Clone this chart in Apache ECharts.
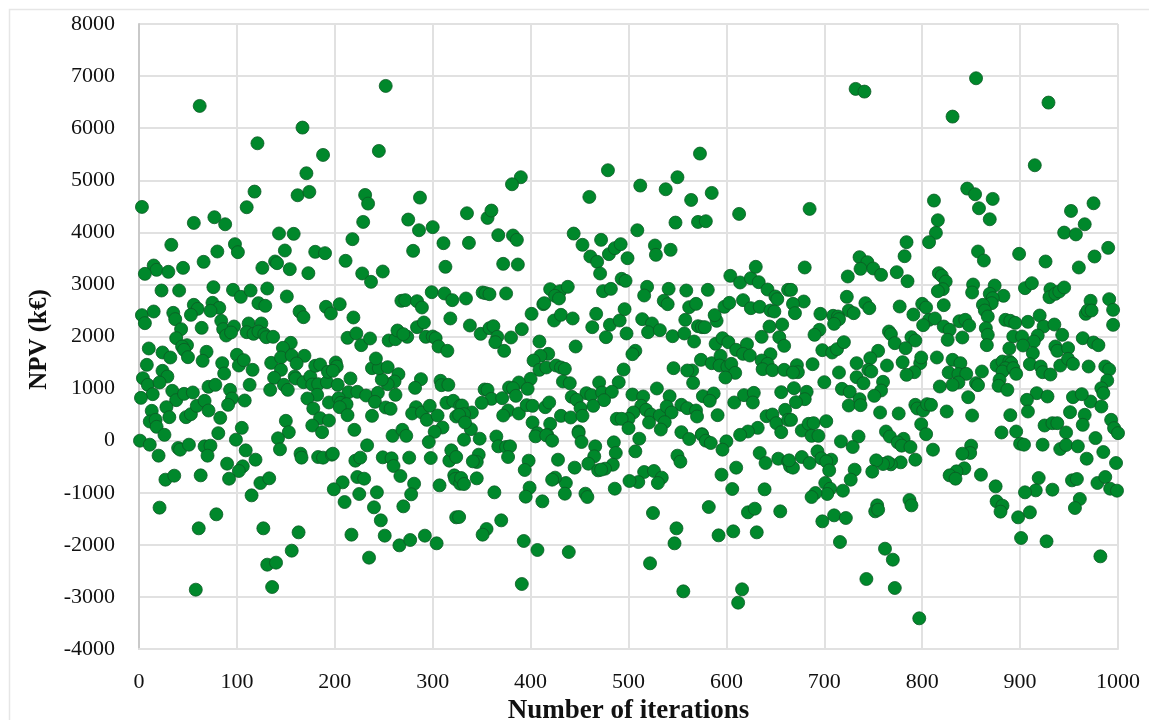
<!DOCTYPE html>
<html><head><meta charset="utf-8">
<style>html,body{margin:0;padding:0;background:#fff}#c{width:1149px;height:720px}</style>
<script src="https://cdn.jsdelivr.net/npm/echarts@6/dist/echarts.min.js"></script>
</head><body><div id="c"></div>
<script>
const xTicks=[0,100,200,300,400,500,600,700,800,900,1000];
const yTicks=[-4000,-3000,-2000,-1000,0,1000,2000,3000,4000,5000,6000,7000,8000];
const xTitle='Number of iterations';
const yTitle='NPV (k€)';
const runsLeft=[[62,6427],[252,6811],[167,6011],[121,5710],[188,5486],[245,5563],[171,5134],[118,4782],[3,4488],[110,4482],[77,4290],[56,4181],[88,4155],[162,4712],[174,4776],[231,4718],[234,4552],[287,4667],[229,4200],[275,4245],[300,4100],[286,4040],
[143,3978],[158,3971],[33,3760],[218,3869],[98,3773],[101,3619],[80,3632],[149,3651],[180,3626],[190,3600],[280,3645],[311,3792],[66,3434],[211,3453],[139,3440],[141,3408],[126,3318],[154,3293],[45,3318],[15,3363],[18,3280],[30,3242],[6,3203],[173,3216],[228,3210],[237,3050],[249,3248],[313,3338],[23,2883],[41,2883],[76,2947],[96,2896],[104,2762],[114,2883],[131,2922],[151,2768],[299,2851],[312,2826],[320,2698],[268,2685],[272,2698],[284,2678],[289,2557],[318,2346],[3,2410],[15,2480],[6,2256],[35,2454],[37,2333],[56,2608],[60,2531],[53,2416],[75,2646],[82,2550],[73,2493],[122,2640],[129,2589],[164,2480],[168,2371],[191,2570],[196,2442],[205,2621],[219,2365],[43,2141],[64,2166],[84,2301],[86,2141],[97,2192],[89,2019],[94,2077],[112,2250],[125,2250],[110,2083],[117,2051],[122,2096],[128,2045],[130,1987],[137,1994],[155,1878],[147,1782],[38,1968],[49,1834],[44,1808],[46,1744],[50,1603],[10,1770],[24,1693],[32,1597],[69,1706],[65,1533],[85,1488],[87,1290],[100,1648],[102,1443],[107,1546],[116,1360],[8,1456],[4,1200],[9,1072],[14,893],[2,822],[24,1341],[29,1232],[21,1117],[34,957],[38,778],[46,899],[55,925],[71,1034],[78,1072],[93,976],[95,810],[91,688],[108,771],[113,1072],[135,1494],[145,1597],[145,1360],[138,1206],[134,976],[148,1072],[152,976],[156,1635],[169,1629],[161,1482],[159,1232],[160,1194],[168,1123],[175,1232],[177,1078],[183,1085],[192,1123],[182,880],[203,1072],[180,1437],[185,1462],[201,1501],[202,1424],[193,1322],[198,1341],[216,1194],[214,931],[223,938],[232,867],[244,918],[241,746],[262,880],[265,1277],[261,1136],[254,1085],[248,1174],[238,1392],[245,1392],[242,1578],[254,1411],[213,1974],[222,2058],[227,1834],[236,1962],[255,1923],[262,1949],[264,2115],[274,1994],[270,2045],[284,2179],[291,2269],[293,1994],[300,2000],[303,1968],[306,1808],[315,1725],[288,1181],[282,1014],[308,1149],[309,1066],[316,1072],[314,726],[321,765],[328,669],[172,810],[178,618],[194,733],[204,816],[206,726],[212,701],[205,643],[213,490],[185,432],[194,387],[177,291],[187,163],[220,208],[238,477],[252,637],[257,611],[283,643],[279,522],[289,541],[297,669],[294,400],[305,483],[28,643],[13,573],[11,368],[17,400],[18,266],[31,451],[26,112],[48,451],[53,509],[59,669],[67,765],[71,579],[83,438],[81,144],[105,246],[150,381],[153,163],[259,93],[269,208],[273,93],[310,253],[302,170],[324,464],
[1,0],[11,-77],[20,-288],[40,-141],[42,-173],[51,-77],[67,-109],[73,-96],[70,-288],[99,19],[109,-186],[90,-442],[119,-365],[106,-493],[102,-582],[92,-730],[124,-813],[133,-723],[115,-1050],[27,-749],[36,-672],[63,-666],[21,-1286],[79,-1414],[61,-1683],[58,-2861],[127,-1683],[163,-1760],[156,-2112],[131,-2381],[140,-2342],[136,-2810],[142,45],[144,-166],[165,-250],[166,-326],[183,-314],[188,-326],[197,-269],[198,-250],[221,-384],[226,-326],[233,-90],[249,-320],[258,-339],[260,-486],[267,-678],[276,-326],[281,-826],[278,-1030],[270,-1261],[223,-698],[230,-730],[208,-800],[199,-934],[210,-1178],[225,-1024],[243,-992],[240,-1280],[247,-1530],[251,-1824],[217,-1805],[235,-2246],[266,-2010],[277,-1907],[292,-1824],[304,-1971],[296,-26],[298,-333],[307,-858],[317,-384],[319,-186],[324,-314],[324,-1472],[322,-666],[323,-736],[328,-826]];
const runsMiddle=[[390,5058],[381,4923],[479,5192],[460,4680],[335,4366],[356,4277],[360,4418],[573,5512],[550,5058],[512,4898],[538,4827],[564,4622],[585,4757],[548,4187],[571,4200],[579,4213],[613,4354],[444,3976],[509,4040],
[367,3946],[382,3939],[386,3856],[337,3798],[372,3395],[387,3382],[453,3760],[472,3856],[461,3536],[468,3434],[471,3210],[480,3581],[486,3696],[492,3773],[499,3504],[527,3747],[528,3568],[543,3664],[604,3165],[614,3037],[625,3120],[630,3338],[633,3043],[642,2902],[650,2768],[652,2717],[663,2896],[617,2698],[625,2544],[634,2570],[645,2499],[649,2480],[493,3107],[497,3069],[474,2870],[482,2915],[519,2954],[516,2787],[541,2915],[559,2883],[581,2896],[420,2909],[430,2870],[438,2954],[425,2781],[429,2730],[351,2845],[354,2832],[358,2813],[375,2826],[334,2730],[413,2621],[414,2640],[401,2435],[424,2307],[431,2416],[443,2346],[467,2435],[463,2179],[481,2224],[491,2307],[496,2525],[477,1987],[498,2058],[514,2333],[524,2250],[520,2083],[532,2122],[545,2006],[536,2685],[540,2621],[562,2563],[569,2627],[558,2320],[557,2058],[567,1904],[571,2198],[575,2179],[578,2179],[590,2301],[588,2410],[598,2570],[603,2646],[644,2192],[657,2230],[636,1994],[654,1987],[659,1821],[338,2211],[349,2051],[358,2160],[362,2198],[366,1994],[364,1891],[373,1725],[380,1981],[391,2141],[409,1904],[446,1808],[507,1725],[504,1661],[495,1366],[490,1123],[418,1667],[410,1629],[403,1539],[409,1360],[416,1405],[426,1443],[431,1405],[435,1379],[433,1136],[440,1104],[470,1117],[400,1187],[388,1117],[378,1021],[382,1008],[397,995],[385,861],[353,982],[356,976],[360,803],[371,816],[350,726],[330,675],[340,541],[332,509],[327,496],[377,579],[372,483],[388,522],[396,682],[402,669],[415,643],[419,733],[402,349],[420,323],[431,477],[441,445],[457,912],[442,842],[447,784],[462,874],[473,925],[483,938],[475,778],[464,669],[451,624],[453,477],[529,1002],[542,854],[546,1392],[565,1347],[560,1347],[566,1110],[574,1552],[585,1488],[594,1629],[589,1859],[596,1968],[602,1891],[610,1744],[621,1853],[617,1667],[624,1635],[593,1443],[601,1418],[605,1475],[609,1302],[599,1213],[645,1661],[636,1539],[642,1475],[637,1373],[647,1354],[659,1360],[504,886],[515,848],[513,669],[518,592],[523,502],[532,483],[539,656],[554,688],[560,624],[544,541],[569,579],[570,464],[537,355],[533,214],[505,541],[500,419],[488,419],[493,419],[500,240],[521,349],[576,854],[587,906],[583,765],[591,490],[608,733],[618,874],[628,918],[627,733],[656,931],[660,592],[641,470],[647,502],[651,336],[663,400],[656,163],[554,163],[575,125],[632,246],[622,176],[614,112],[449,176],[365,80],[407,144],[417,112],[339,221],[333,349],
[332,19],[348,38],[367,-109],[375,-122],[379,-109],[377,-314],[405,83],[416,102],[422,0],[449,147],[452,-26],[466,-109],[465,-301],[459,-442],[485,-32],[487,-237],[484,-461],[476,-538],[469,-570],[472,-557],[511,38],[507,-205],[550,-288],[553,-403],[562,32],[575,115],[579,0],[584,-45],[600,-13],[596,-173],[634,-237],[640,-429],[653,-346],[663,-397],[665,-493],[610,-518],[595,-653],[606,-928],[639,-934],[516,-602],[526,-582],[534,-710],[530,-813],[510,-794],[501,-774],[486,-922],[456,-1018],[458,-1082],[436,-813],[435,-1018],[425,-710],[422,-749],[445,-518],[428,-365],[398,-384],[394,-563],[399,-902],[395,-1075],[412,-1165],[347,-269],[345,-410],[341,-397],[345,-723],[329,-717],[332,-832],[363,-992],[327,-1466],[370,-1530],[355,-1696],[351,-1805],[393,-1926],[407,-2099],[439,-2138],[391,-2752],[525,-1389],[549,-1683],[547,-1971],[522,-2355],[556,-2893],[582,-1274],[592,-1818],[607,-1741],[616,-2854],[612,-3110],[631,-1760],[622,-1376],[629,-1306],[655,-1357]];
const runsRight=[[732,6754],[741,6702],[855,6958],[831,6222],[929,6491],[915,5288],[685,4450],[846,4840],[854,4731],[872,4642],[812,4610],[858,4462],[816,4232],[869,4251],[975,4558],[952,4411],[966,4155],[945,3995],[957,3960],[814,3990],
[784,3811],[782,3542],[807,3811],[680,3325],[736,3523],[744,3427],[737,3299],[750,3306],[758,3184],[724,3152],[774,3235],[785,3062],[857,3632],[863,3459],[899,3587],[926,3440],[960,3325],[976,3536],[990,3702],[817,3216],[820,3165],[824,3056],[821,2909],[816,2870],[852,2998],[851,2845],[874,2979],[869,2819],[883,2781],[872,2736],[871,2640],[862,2608],[864,2499],[867,2384],[865,2160],[867,2032],[866,1834],[905,2928],[912,3024],[931,2909],[930,2755],[936,2819],[940,2864],[945,2941],[972,2685],[967,2435],[969,2499],[973,2499],[991,2717],[995,2512],[995,2224],[666,2896],[679,2672],[668,2627],[670,2448],[723,2762],[742,2640],[746,2544],[725,2499],[730,2448],[777,2576],[791,2422],[822,2602],[696,2435],[709,2397],[714,2384],[715,2333],[710,2243],[800,2627],[804,2557],[807,2320],[813,2346],[801,2218],[822,2192],[828,2128],[826,1936],[841,1981],[838,2294],[844,2320],[848,2211],[885,2320],[890,2301],[895,2262],[908,2282],[920,2403],[924,2192],[935,2230],[918,2019],[914,1904],[893,2000],[902,2000],[903,1827],[889,1770],[913,1680],[943,2032],[964,1968],[975,1885],[980,1834],[695,2128],[690,2032],[698,1738],[708,1693],[713,1757],[720,1891],[766,2096],[768,2045],[772,1872],[789,1987],[793,1923],[783,1776],[755,1725],[747,1584],[733,1488],[764,1443],[780,1507],[798,1488],[799,1597],[815,1597],[688,1469],[672,1450],[673,1315],[668,1309],[715,1309],[700,1123],[745,1360],[748,1328],[733,1219],[740,1104],[792,1315],[784,1264],[760,1130],[758,963],[751,861],[718,995],[726,938],[736,797],[725,675],[737,682],[669,1008],[682,938],[680,797],[671,739],[757,541],[776,522],[831,1552],[839,1488],[827,1309],[837,1277],[845,1283],[837,1117],[831,1072],[818,1040],[861,1328],[855,1104],[857,1066],[847,835],[825,560],[851,483],[793,688],[795,618],[801,579],[805,701],[809,688],[799,317],[804,125],[763,176],[767,80],[781,35],[735,80],[717,-15],[666,400],[677,195],[684,323],[689,336],[702,374],[687,93],[694,93],[876,1443],[882,1520],[889,1520],[891,1488],[885,1392],[882,1328],[893,1392],[896,1283],[879,1168],[878,1053],[887,976],[970,1424],[941,1443],[936,1808],[938,1725],[949,1776],[949,1571],[954,1475],[910,1469],[921,1424],[923,1315],[931,1270],[987,1424],[991,1366],[989,1155],[983,1008],[985,912],[972,752],[983,656],[954,835],[963,893],[917,912],[907,784],[928,848],[908,560],[890,490],[951,547],[966,496],[964,304],[925,291],[933,336],[938,336],[947,157],[881,157],[896,176],[993,400],[996,240],[1000,144],[977,50],
[729,-122],[775,-32],[779,-96],[788,-122],[811,-173],[793,-365],[778,-416],[768,-454],[765,-416],[760,-448],[753,-378],[749,-595],[693,-205],[677,-314],[685,-429],[697,-339],[707,-365],[702,-397],[668,-518],[664,-378],[705,-570],[731,-557],[727,-749],[701,-813],[706,-922],[703,-1024],[719,-960],[691,-1005],[687,-1082],[754,-1242],[752,-1357],[755,-1325],[787,-1139],[789,-1242],[710,-1434],[722,-1485],[698,-1549],[716,-1946],[762,-2074],[770,-2285],[743,-2656],[772,-2829],[797,-3411],[900,-58],[904,-77],[923,-77],[941,-160],[947,-83],[959,-109],[985,-218],[968,-346],[998,-429],[850,-96],[849,-237],[841,-250],[843,-531],[835,-589],[828,-666],[834,-730],[860,-653],[875,-877],[919,-717],[916,-954],[905,-992],[933,-941],[953,-762],[958,-736],[979,-813],[987,-698],[992,-922],[999,-960],[876,-1165],[882,-1248],[880,-1363],[898,-1472],[910,-1376],[961,-1120],[956,-1293],[901,-1869],[927,-1933],[982,-2221]];
const allRuns=[...runsLeft,...runsMiddle,...runsRight];
const fontFamily='"Liberation Serif","DejaVu Serif",serif';
const plain=v=>String(v);
const chart=echarts.init(document.getElementById('c'),null,{renderer:'canvas'});
chart.setOption({
 animation:false,backgroundColor:'#fff',
 grid:{left:139,top:24,width:979,height:625,containLabel:false,outerBoundsMode:'none'},
 xAxis:{type:'value',min:xTicks[0],max:xTicks[xTicks.length-1],interval:100,
  name:xTitle,nameLocation:'middle',nameGap:46,nameTextStyle:{fontFamily,fontWeight:'bold',fontSize:27,color:'#111'},
  axisLine:{show:true,onZero:false,lineStyle:{color:'#e1e1e1',width:2}},axisTick:{show:false},
  axisLabel:{fontFamily,fontSize:22,color:'#111',margin:22,formatter:plain},
  splitLine:{show:true,lineStyle:{color:'#e1e1e1',width:2}}},
 yAxis:{type:'value',min:yTicks[0],max:yTicks[yTicks.length-1],interval:1000,
  name:yTitle,nameLocation:'middle',nameGap:87,nameTextStyle:{fontFamily,fontWeight:'bold',fontSize:25,color:'#111',padding:[0,6,0,0]},
  axisLine:{show:true,onZero:false,lineStyle:{color:'#c9c9c9',width:2}},axisTick:{show:false},
  axisLabel:{fontFamily,fontSize:22,color:'#111',margin:24,formatter:plain},
  splitLine:{show:true,lineStyle:{color:'#e1e1e1',width:2}}},
 series:[{type:'scatter',data:allRuns,symbolSize:13,clip:false,
  itemStyle:{color:'#00882b',borderColor:'#0b5a24',borderWidth:0.8,opacity:1}}],
 graphic:[{type:'polyline',silent:true,shape:{points:[[9.5,720],[9.5,9.5],[1149,9.5]]},style:{stroke:'#e6e6e6',lineWidth:1.5,fill:null}}]
});
</script></body></html>
